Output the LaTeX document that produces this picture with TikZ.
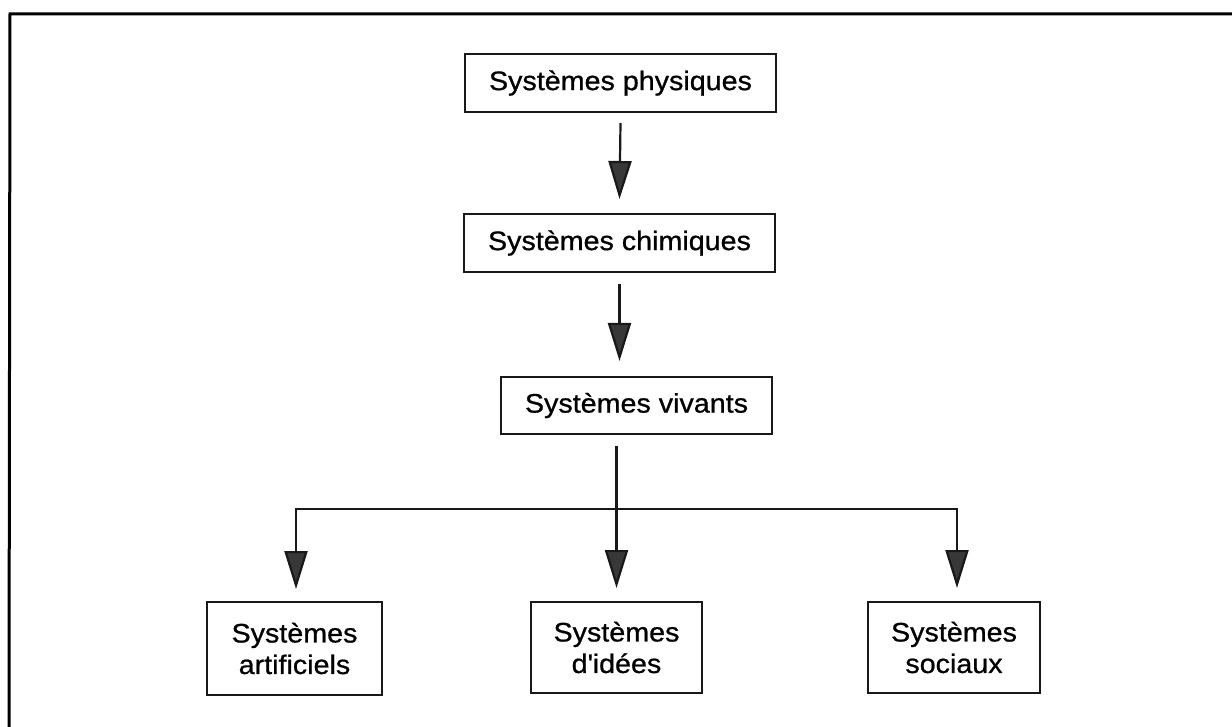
\documentclass[tikz,border=0pt]{standalone}
\usepackage{fontspec}
\setmainfont{Liberation Sans}[FakeStretch=1.07,FakeBold=0.8]
\usetikzlibrary{arrows.meta}
\begin{document}
\begin{tikzpicture}[x=1pt,y=-1pt,
  box/.style={draw=black!90,line width=2pt,align=center,inner sep=0pt,
    font=\fontsize{26.8}{31.5}\selectfont},
  conn/.style={draw=black!90,line width=2.2pt},
  arr/.style={conn,-{Triangle[width=23pt,length=38pt,fill=black!78]}}]
\useasboundingbox (0,0) rectangle (1232,727);
% frame (only top and left edges visible)
\draw[line width=3pt] (9,727) -- (10,14) -- (1232,14);
% nodes
\node[box,minimum width=311pt,minimum height=58pt] (phys) at (620.5,83) {Systèmes physiques};
\node[box,minimum width=311pt,minimum height=58pt] (chim) at (619.5,243) {Systèmes chimiques};
\node[box,minimum width=271pt,minimum height=57pt] (viv) at (636.5,405.5) {Systèmes vivants};
\node[box,minimum width=175pt,minimum height=93pt] (art) at (294.5,648.5) {Systèmes\\artificiels};
\node[box,minimum width=171pt,minimum height=91pt] (idees) at (616.5,647.5) {Systèmes\\d\textquotesingle idées};
\node[box,minimum width=172pt,minimum height=91pt] (soc) at (954,647.5) {Systèmes\\sociaux};
% connectors
\coordinate (c0) at (chim.south);
\coordinate (v0) at (viv.south -| idees.north);
\coordinate (j) at (616.5,509);
\draw[arr] ([yshift=-10pt]phys.south) -- ([yshift=14pt]chim.north);
\draw[arr] ([yshift=-11pt]c0) -- ([yshift=15pt]c0 |- viv.north);
\draw[arr] ([yshift=-11pt]v0) -- ([yshift=13pt]idees.north);
\draw[arr] (j) -| ([xshift=1.5pt,yshift=12pt]art.north);
\draw[arr] (j) -| ([xshift=3pt,yshift=13pt]soc.north);
\end{tikzpicture}
\end{document}
